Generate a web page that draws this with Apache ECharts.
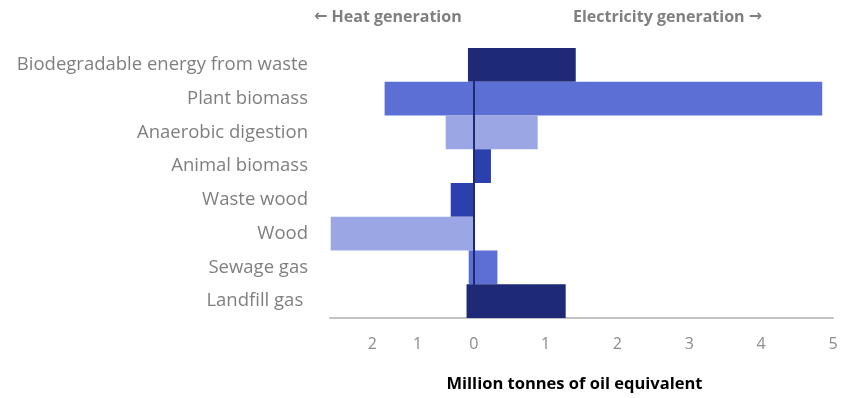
<!DOCTYPE html>
<html>
<head>
<meta charset="utf-8">
<script src="https://cdn.jsdelivr.net/npm/echarts@6/dist/echarts.min.js"></script>
<style>
  html, body { margin: 0; padding: 0; background: #fff; }
  #app { width: 847px; height: 398px; }
</style>
</head>
<body>
<div id="app"></div>
<script>
// categories top to bottom
const categories = [
  'Biodegradable energy from waste',
  'Plant biomass',
  'Anaerobic digestion',
  'Animal biomass',
  'Waste wood',
  'Wood',
  'Sewage gas',
  'Landfill gas '
];
// heat generation (drawn to the left, negative)
const heat = [-0.08, -1.24, -0.39, 0, -0.32, -1.99, -0.07, -0.10];
// electricity generation (drawn to the right)
const electricity = [1.42, 4.85, 0.89, 0.24, 0, 0, 0.33, 1.28];
const barColors = ['#1f2a77', '#5b6fd5', '#9ba7e4', '#2b40ad', '#2b40ad', '#9ba7e4', '#5b6fd5', '#1f2a77'];
// tick labels and where they sit on the axis (the heat side is squeezed in the source)
const tickLabels = ['2', '1', '0', '1', '2', '3', '4', '5'];
const tickValues = [-1.41, -0.78, 0, 1, 2, 3, 4, 5];

const grey = '#7f7f7f';
const font = '"Open Sans", sans-serif';

const chart = echarts.init(document.getElementById('app'));

const itemColor = p => barColors[p.dataIndex];

const header = {
  fill: grey,
  font: 'bold 16px "Open Sans", sans-serif',
  rich: {
    arr: { fontFamily: '"DejaVu Sans", sans-serif', fontSize: 16, fontWeight: 'bold', color: grey }
  }
};

chart.setOption({
  animation: false,
  grid: { left: 330, right: 14, top: 48, bottom: 78 },
  xAxis: {
    type: 'value',
    min: -2,
    max: 5,
    splitLine: { show: false },
    axisTick: { show: false },
    axisLine: { show: true, lineStyle: { color: '#c3c3c3', width: 2 } },
    axisLabel: {
      customValues: tickValues,
      color: '#8c8c8c',
      fontFamily: font,
      fontSize: 16,
      margin: 18,
      formatter: v => {
        const i = tickValues.findIndex(t => Math.abs(t - v) < 1e-6);
        return i >= 0 ? tickLabels[i] : '';
      }
    },
    name: 'Million tonnes of oil equivalent',
    nameLocation: 'middle',
    nameGap: 58,
    nameTextStyle: { color: '#000', fontWeight: 'bold', fontFamily: font, fontSize: 16.5, padding: [0, 14, 0, 0] }
  },
  yAxis: {
    type: 'category',
    data: categories,
    inverse: true,
    axisLine: { show: false },
    axisTick: { show: false },
    axisLabel: { color: grey, fontFamily: font, fontSize: 18.5, margin: 22, padding: [6, 0, 0, 0] }
  },
  graphic: [
    {
      type: 'text', left: 314, top: 9,
      style: Object.assign({ text: '{arr|←} Heat generation' }, header)
    },
    {
      type: 'text', left: 573, top: 9,
      style: Object.assign({ text: 'Electricity generation {arr|→}' }, header)
    }
  ],
  series: [
    {
      name: 'Heat generation',
      type: 'bar',
      data: heat,
      barGap: '-100%',
      barCategoryGap: '0%',
      itemStyle: { color: itemColor }
    },
    {
      name: 'Electricity generation',
      type: 'bar',
      data: electricity,
      barGap: '-100%',
      barCategoryGap: '0%',
      itemStyle: { color: itemColor },
      markLine: {
        silent: true,
        symbol: 'none',
        label: { show: false },
        lineStyle: { color: '#1f2a77', width: 2, type: 'solid' },
        data: [{ xAxis: 0 }]
      }
    }
  ]
});
</script>
</body>
</html>
